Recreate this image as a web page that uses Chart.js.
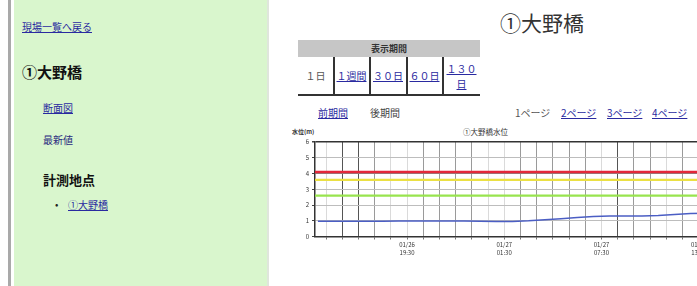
<!DOCTYPE html>
<html><head><meta charset="utf-8">
<script src="https://cdn.jsdelivr.net/npm/chart.js@4/dist/chart.umd.min.js"></script>
<style>
html,body{margin:0;padding:0;width:697px;height:286px;overflow:hidden;background:#fff;font-family:"Noto Sans CJK JP","Noto Sans",sans-serif;position:relative;}
.abs{position:absolute;white-space:nowrap;line-height:1;}
a{color:#2a2aa0;text-decoration:underline;}
#gbar{position:absolute;left:8px;top:0;width:3px;height:286px;background:#a9a9a9;}
#side{position:absolute;left:14px;top:0;width:253px;height:286px;background:#d9f6cd;}
#sep{position:absolute;left:267px;top:0;width:2px;height:286px;background:#dfe6dc;}
.cell{position:absolute;top:57px;height:37px;display:flex;align-items:center;justify-content:center;text-align:center;font-size:10px;line-height:15px;letter-spacing:0px;}
.vl{position:absolute;top:57px;width:1.5px;height:38px;background:#333;}
#chartBox{position:absolute;left:285px;top:125px;width:427px;height:135px;}
</style></head>
<body>
<div id="gbar"></div>
<div id="side"></div>
<div id="sep"></div>

<a class="abs" style="left:22px;top:22px;font-size:10px;">現場一覧へ戻る</a>
<div class="abs" style="left:22px;top:64px;font-size:15px;font-weight:bold;color:#111;">①大野橋</div>
<a class="abs" style="left:43px;top:103px;font-size:10px;">断面図</a>
<div class="abs" style="left:43px;top:135px;font-size:10px;color:#2a2a80;">最新値</div>
<div class="abs" style="left:43px;top:173px;font-size:13px;font-weight:bold;color:#111;">計測地点</div>
<div class="abs" style="left:55px;top:199px;font-size:10px;color:#222;">•</div>
<a class="abs" style="left:68px;top:200px;font-size:10px;">①大野橋</a>

<div class="abs" style="left:500px;top:12px;font-size:21px;color:#333;">①大野橋</div>

<div class="abs" style="left:298px;top:40px;width:182px;height:17px;background:#c6c6c6;display:flex;align-items:center;justify-content:center;font-size:9px;font-weight:bold;color:#333;">表示期間</div>
<div class="cell" style="left:298px;width:35px;color:#555;">１日</div>
<div class="cell" style="left:334px;width:35px;"><a>１週間</a></div>
<div class="cell" style="left:370px;width:36px;"><a>３０日</a></div>
<div class="cell" style="left:407px;width:35px;"><a>６０日</a></div>
<div class="cell" style="left:443px;width:37px;"><a>１３０<br>日</a></div>
<div class="vl" style="left:333px;"></div>
<div class="vl" style="left:369px;"></div>
<div class="vl" style="left:406px;"></div>
<div class="vl" style="left:442px;"></div>
<div class="abs" style="left:298px;top:94px;width:182px;height:1.5px;background:#333;"></div>

<a class="abs" style="left:318px;top:108px;font-size:10px;">前期間</a>
<div class="abs" style="left:370px;top:108px;font-size:10px;color:#444;">後期間</div>
<div class="abs" style="left:515px;top:108px;font-size:10px;color:#555;">1ページ</div>
<a class="abs" style="left:561px;top:108px;font-size:10px;">2ページ</a>
<a class="abs" style="left:607px;top:108px;font-size:10px;">3ページ</a>
<a class="abs" style="left:652px;top:108px;font-size:10px;">4ページ</a>

<div class="abs" style="left:292px;top:129px;font-size:6px;font-weight:bold;color:#333;">水位(m)</div>
<div class="abs" style="left:463px;top:128px;font-size:7.5px;color:#333;">①大野橋水位</div>

<div id="chartBox"><canvas id="c" width="427" height="135"></canvas></div>

<script>
// ---- data ----
const hours = [14,15,16,17,18,19,20,21,22,23,24,25,26,27,28,29,30,31,32,33,34,35,36,37,38];
const waterLevel = [0.97,0.97,0.97,0.97,0.97,0.98,0.98,0.98,0.98,0.98,0.97,0.95,0.96,1.00,1.07,1.13,1.20,1.27,1.30,1.30,1.30,1.33,1.40,1.46,1.48];
const thresholdValues = [4.1, 3.6, 2.6];
const thresholdColors = ['#e4283a', '#ebe044', '#98e44e'];
const thresholdWidths = [2.5, 2.2, 2.2];
const xTickHours = [19.5, 25.5, 31.5, 37.5];
const xTickLabels = [['01/26','19:30'], ['01/27','01:30'], ['01/27','07:30'], ['01/27','13:30']];
const gridHours = [14.5,15.5,16.5,17.5,18.5,19.5,20.5,21.5,22.5,23.5,24.5,25.5,26.5,27.5,28.5,29.5,30.5,31.5,32.5,33.5,34.5,35.5,36.5,37.5];
const darkGrid = [15.5, 16.5, 32.5];
const midGrid = [17.5,20.5,21.5,22.5,23.5,26.5,27.5,28.5,29.5,30.5,33.5,34.5,36.5];

const X_MIN = 13.82, X_MAX = 38.32;

const datasets = [];
thresholdValues.forEach((v, i) => {
  datasets.push({
    data: [{x: X_MIN, y: v}, {x: X_MAX, y: v}],
    borderColor: thresholdColors[i], borderWidth: thresholdWidths[i],
    pointRadius: 0, tension: 0
  });
});
datasets.push({
  data: hours.map((h, i) => ({x: h, y: waterLevel[i]})),
  borderColor: '#4b5ec4', borderWidth: 1.5, pointRadius: 0, tension: 0
});

new Chart(document.getElementById('c'), {
  type: 'line',
  data: { datasets },
  options: {
    responsive: false, animation: false,
    layout: { padding: { top: 17, left: 0, right: 0, bottom: 0 } },
    plugins: { legend: { display: false }, tooltip: { enabled: false }, title: { display: false } },
    scales: {
      x: {
        type: 'linear', min: X_MIN, max: X_MAX,
        afterBuildTicks: s => { s.ticks = gridHours.map(v => ({ value: v })); },
        afterFit: s => { s.height = 23.5; },
        ticks: {
          autoSkip: false, maxRotation: 0, minRotation: 0, padding: 2,
          font: { size: 6, family: 'Noto Sans CJK JP' }, color: '#333',
          callback: (v) => { const i = xTickHours.indexOf(v); return i >= 0 ? xTickLabels[i] : ''; }
        },
        grid: {
          color: ctx => {
            const v = ctx.tick && ctx.tick.value;
            if (darkGrid.includes(v)) return '#555';
            if (midGrid.includes(v)) return '#9a9a9a';
            return '#dadada';
          },
          lineWidth: 1, drawTicks: true, tickLength: 3,
          tickColor: ctx => '#777'
        },
        border: { color: '#333', width: 1.5 }
      },
      y: {
        min: 0, max: 6,
        afterFit: s => { s.width = 30; },
        ticks: {
          stepSize: 0.5, padding: 3,
          font: { size: 6, family: 'Noto Sans CJK JP' }, color: '#333',
          callback: v => (Number.isInteger(v) ? String(v) : '')
        },
        grid: {
          color: ctx => {
            const v = ctx.tick && ctx.tick.value;
            if (v === 6) return '#333';
            if (v === 4) return '#888';
            return Number.isInteger(v) ? '#bdbdbd' : '#eaeaea';
          },
          lineWidth: ctx => (ctx.tick && ctx.tick.value === 6 ? 1.5 : 1),
          drawTicks: true, tickLength: 3,
          tickColor: ctx => (ctx.tick && Number.isInteger(ctx.tick.value) ? '#444' : 'rgba(0,0,0,0)')
        },
        border: { color: '#333', width: 1.5 }
      }
    }
  }
});
</script>
</body></html>
